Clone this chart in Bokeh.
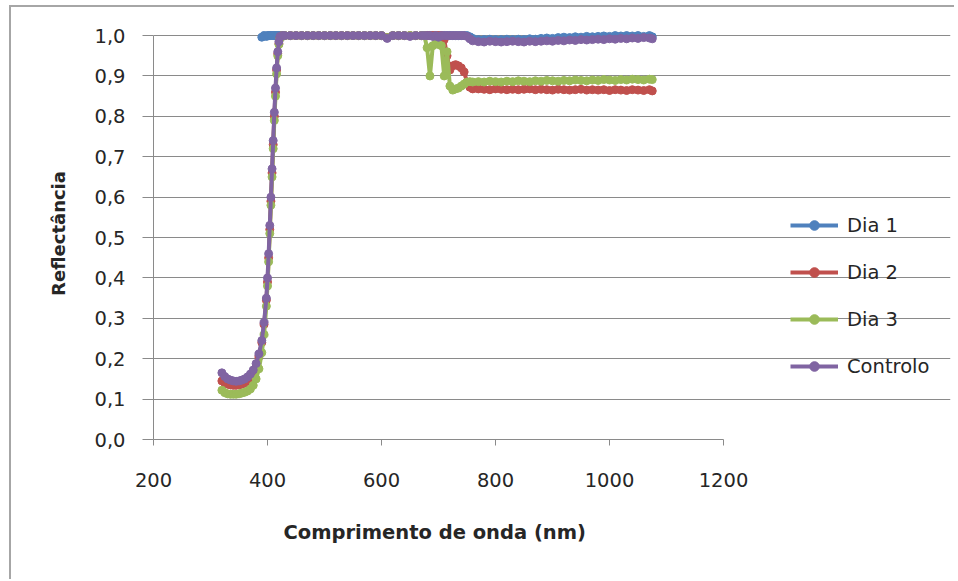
from bokeh.plotting import figure
from bokeh.models import (Range1d, FixedTicker, CustomJSTickFormatter, Legend, LegendItem,
                          ColumnDataSource, Title)
from bokeh.embed import file_html
from bokeh.resources import INLINE

# ---------------- data ----------------
wavelength = [320, 325, 330, 335, 340, 345, 350, 355, 360, 365, 370, 375, 380, 385, 390,
              394, 398, 400, 402, 404, 406, 408, 410, 412, 414, 416, 418, 420, 422, 426, 430,
              440, 450, 460, 470, 480, 490, 500, 510, 520, 530, 540, 550, 560, 570, 580, 590,
              600, 610, 620, 630, 640, 650, 660, 670,
              675, 680, 685, 690, 695, 700, 705, 710, 715, 720, 725, 730, 735, 740, 745, 750,
              755, 760,
              770, 780, 790, 800, 810, 820, 830, 840, 850, 860, 870, 880, 890, 900, 910, 920,
              930, 940, 950, 960, 970, 980, 990, 1000, 1010, 1020, 1030, 1040, 1050, 1060, 1070,
              1075]

# Dia 1 only begins near 390 nm (already at ~1.0)
dia1_start = 14
dia1 = [0.996, 1.0, 0.998, 1.0,
        1.0, 1.0, 1.0, 1.0, 1.0, 1.0, 1.0, 1.0, 1.0, 1.0, 1.0, 1.0, 1.0,
        1.0, 1.0, 1.0, 1.0, 1.0, 1.0, 1.0, 1.0, 1.0, 1.0, 1.0, 1.0, 1.0, 1.0, 1.0, 1.0,
        1.0, 0.995, 1.0, 1.0, 1.0, 1.0, 1.0, 1.0,
        1.0, 1.0, 1.0, 1.0, 1.0, 1.0, 1.0, 1.0, 1.0, 1.0, 1.0, 1.0, 1.0, 1.0, 1.0, 1.0,
        0.997, 0.993,
        0.990, 0.990, 0.991, 0.990, 0.990, 0.991, 0.990, 0.991, 0.990, 0.992, 0.991, 0.993,
        0.994, 0.993, 0.995, 0.996, 0.995, 0.997, 0.996, 0.998, 0.997, 0.998, 0.999, 0.998,
        1.0, 0.999, 1.0, 0.999, 1.0, 0.998, 1.0,
        0.997]

dia2 = [0.145, 0.140, 0.137, 0.135, 0.134, 0.134, 0.135, 0.137, 0.140, 0.145, 0.152, 0.163,
        0.180, 0.205, 0.240,
        0.285, 0.345, 0.390, 0.450, 0.520, 0.590, 0.660, 0.730, 0.800, 0.860, 0.915, 0.955,
        0.980, 0.995, 1.0, 1.0,
        1.0, 1.0, 1.0, 1.0, 1.0, 1.0, 1.0, 1.0, 1.0, 1.0, 1.0, 1.0, 1.0, 1.0, 1.0, 1.0,
        1.0, 0.995, 1.0, 1.0, 1.0, 1.0, 1.0, 1.0,
        1.0, 1.0, 1.0, 1.0, 1.0, 1.0, 1.0, 0.990, 0.950, 0.915, 0.925, 0.928, 0.925, 0.920,
        0.910, 0.885, 0.872, 0.868,
        0.868, 0.867, 0.866, 0.868, 0.867, 0.866, 0.867, 0.866, 0.867, 0.868, 0.866, 0.867,
        0.866, 0.865, 0.867, 0.866, 0.865, 0.866, 0.867, 0.865, 0.866, 0.865, 0.866, 0.864,
        0.866, 0.865, 0.864, 0.866, 0.865, 0.864, 0.866,
        0.863]

dia3 = [0.122, 0.116, 0.113, 0.112, 0.112, 0.112, 0.113, 0.115, 0.117, 0.120, 0.125, 0.134,
        0.150, 0.175, 0.215,
        0.260, 0.330, 0.380, 0.440, 0.510, 0.580, 0.650, 0.720, 0.790, 0.850, 0.905, 0.950,
        0.978, 0.993, 1.0, 1.0,
        1.0, 1.0, 1.0, 1.0, 1.0, 1.0, 1.0, 1.0, 1.0, 1.0, 1.0, 1.0, 1.0, 1.0, 1.0, 1.0,
        1.0, 0.995, 1.0, 1.0, 1.0, 1.0, 1.0, 1.0,
        1.0, 0.970, 0.900, 0.975, 0.980, 0.978, 0.975, 0.900, 0.960, 0.875, 0.865, 0.868,
        0.870, 0.875, 0.880, 0.885, 0.886, 0.885,
        0.886, 0.885, 0.887, 0.886, 0.885, 0.887, 0.886, 0.888, 0.887, 0.886, 0.888, 0.887,
        0.889, 0.888, 0.887, 0.889, 0.888, 0.890, 0.889, 0.888, 0.890, 0.889, 0.891, 0.890,
        0.889, 0.891, 0.890, 0.892, 0.891, 0.890, 0.892,
        0.891]

controlo = [0.165, 0.156, 0.150, 0.147, 0.145, 0.144, 0.145, 0.147, 0.150, 0.155, 0.162, 0.172,
            0.188, 0.212, 0.245,
            0.290, 0.350, 0.400, 0.460, 0.530, 0.600, 0.670, 0.740, 0.810, 0.870, 0.920, 0.960,
            0.985, 0.998, 1.0, 1.0,
            1.0, 1.0, 1.0, 1.0, 1.0, 1.0, 1.0, 1.0, 1.0, 1.0, 1.0, 1.0, 1.0, 1.0, 1.0, 1.0,
            1.0, 0.993, 1.0, 1.0, 1.0, 0.998, 1.0, 1.0,
            1.0, 1.0, 1.0, 0.998, 1.0, 0.996, 1.0, 1.0, 1.0, 1.0, 1.0, 1.0, 1.0, 1.0, 1.0,
            0.998, 0.992, 0.987,
            0.985, 0.984, 0.986, 0.985, 0.984, 0.985, 0.986, 0.985, 0.984, 0.986, 0.985, 0.986,
            0.987, 0.986, 0.988, 0.987, 0.989, 0.988, 0.990, 0.989, 0.990, 0.991, 0.990, 0.992,
            0.991, 0.993, 0.992, 0.994, 0.993, 0.995, 0.994,
            0.992]

series_names = ["Dia 1", "Dia 2", "Dia 3", "Controlo"]
series_colors = ["#4F81BD", "#C0504D", "#9BBB59", "#8064A2"]

x_ticks = [200, 400, 600, 800, 1000, 1200]
y_ticks = [0.0, 0.1, 0.2, 0.3, 0.4, 0.5, 0.6, 0.7, 0.8, 0.9, 1.0]

x_title = "Comprimento de onda (nm)"
y_title = "Reflectância"

# ---------------- layout ----------------
TEXT = "#262626"
GRID = "#8a8a8a"
FONT = "DejaVu Sans"

W, H = 945, 574
BL, BR, BT, BB = 142, 6, 20, 142
axis_px = 570.0  # pixels for the 200..1200 axis span
frame_w = W - BL - BR
x_end = x_ticks[0] + (x_ticks[-1] - x_ticks[0]) * frame_w / axis_px  # room for legend

p = figure(width=W, height=H, output_backend="svg", toolbar_location=None,
           x_range=Range1d(x_ticks[0], x_end), y_range=Range1d(0, 1.02),
           min_border_left=BL, min_border_right=BR, min_border_top=BT,
           min_border_bottom=BB)
p.outline_line_color = None
p.background_fill_color = "white"
p.border_fill_color = "white"
p.styles = {"margin-left": "9px", "margin-top": "5px",
            "border-left": "2px solid #a6a6a6", "border-top": "2px solid #a6a6a6"}

p.xgrid.visible = False
p.ygrid.ticker = FixedTicker(ticks=y_ticks)
p.ygrid.bounds = (x_ticks[0], x_ticks[-1])
p.ygrid.grid_line_color = GRID
p.ygrid.grid_line_width = 1

xa = p.xaxis[0]
xa.ticker = FixedTicker(ticks=x_ticks)
xa.bounds = (x_ticks[0], x_ticks[-1])
xa.axis_line_color = GRID
xa.major_tick_line_color = GRID
xa.major_tick_out = 6
xa.major_tick_in = 0
xa.minor_tick_line_color = None
xa.major_label_text_font = FONT
xa.major_label_text_font_size = "19.5px"
xa.major_label_text_color = TEXT
xa.major_label_standoff = 27

# x-axis title, centred under the 200..1200 axis span (not the whole frame)
xt = Title(text=x_title, align="left", offset=130, standoff=62,
           text_font=FONT, text_font_style="bold", text_font_size="19.5px",
           text_color=TEXT, vertical_align="top")
p.add_layout(xt, "below")

ya = p.yaxis[0]
ya.ticker = FixedTicker(ticks=y_ticks)
ya.bounds = (0, 1)
ya.formatter = CustomJSTickFormatter(code="return tick.toFixed(1).replace('.', ',');")
ya.axis_line_color = GRID
ya.major_tick_line_color = GRID
ya.major_tick_out = 11
ya.major_tick_in = 0
ya.minor_tick_line_color = None
ya.major_label_text_font = FONT
ya.major_label_text_font_size = "19.5px"
ya.major_label_text_color = TEXT
ya.major_label_standoff = 17
ya.axis_label = y_title
ya.axis_label_text_font = FONT
ya.axis_label_text_font_style = "bold"
ya.axis_label_text_font_size = "18px"
ya.axis_label_text_color = TEXT
ya.axis_label_standoff = 22

all_values = [dia1, dia2, dia3, controlo]
items = []
for name, color, vals in zip(series_names, series_colors, all_values):
    xs = wavelength[dia1_start:] if name == "Dia 1" else wavelength
    src = ColumnDataSource(data=dict(x=xs, y=vals))
    ln = p.line("x", "y", source=src, line_color=color, line_width=4)
    mk = p.scatter("x", "y", source=src, marker="circle", size=8,
                   fill_color=color, line_color=color)
    items.append(LegendItem(label=name, renderers=[ln, mk]))

legend = Legend(items=items, location=(637, 61), orientation="vertical",
                padding=0, margin=0, spacing=23, glyph_width=48, glyph_height=24,
                label_height=24, label_standoff=9,
                label_text_font=FONT, label_text_font_size="19.5px",
                label_text_color=TEXT, border_line_color=None,
                background_fill_alpha=0)
p.add_layout(legend, "center")

open("out.html", "w").write(file_html(p, INLINE))
